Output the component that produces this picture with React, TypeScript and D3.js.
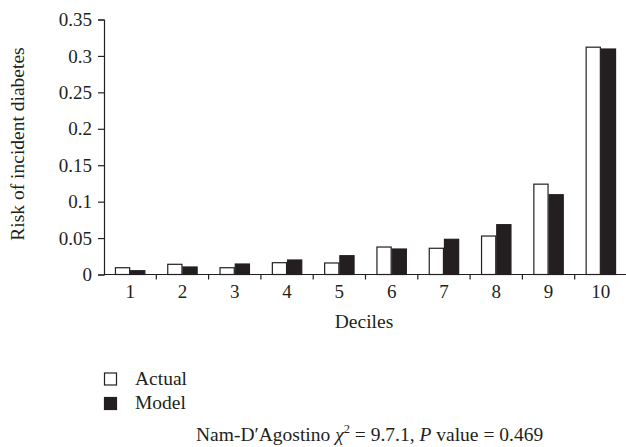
import React, { useEffect, useRef } from 'react';
import * as d3 from 'd3';

const deciles = ['1', '2', '3', '4', '5', '6', '7', '8', '9', '10'];
const series = ['Actual', 'Model'];
const actual = [0.0093, 0.014, 0.0093, 0.0162, 0.0158, 0.0377, 0.036, 0.0528, 0.124, 0.312];
const model = [0.0052, 0.0103, 0.0144, 0.0199, 0.0258, 0.035, 0.0483, 0.0684, 0.1095, 0.3095];
const yTicks = [0, 0.05, 0.1, 0.15, 0.2, 0.25, 0.3, 0.35];

const width = 626;
const height = 447;
const font = '"Liberation Serif", "DejaVu Serif", serif';

export default function App() {
  const ref = useRef<SVGSVGElement>(null);

  useEffect(() => {
    const svg = d3.select(ref.current);
    svg.selectAll('*').remove();

    const x = d3.scaleBand().domain(deciles).range([104, 627]);
    const x1 = d3.scaleBand().domain(series).range([0, x.bandwidth()]).paddingOuter(0.72);
    const y = d3.scaleLinear().domain([0, 0.35]).range([274.5, 19.5]);
    const fill = d3.scaleOrdinal<string, string>().domain(series).range(['#ffffff', '#231f20']);

    // bars
    const groups = svg
      .append('g')
      .selectAll('g')
      .data(deciles)
      .enter()
      .append('g')
      .attr('transform', (d) => 'translate(' + x(d) + ',0)');

    groups
      .selectAll('rect')
      .data((d, i) => series.map((s) => ({ s, v: s === 'Actual' ? actual[i] : model[i] })))
      .enter()
      .append('rect')
      .attr('x', (d) => x1(d.s)! + 0.5)
      .attr('y', (d) => y(d.v))
      .attr('width', x1.bandwidth() - 1)
      .attr('height', (d) => y(0) - y(d.v))
      .attr('fill', (d) => fill(d.s))
      .attr('stroke', '#231f20')
      .attr('stroke-width', 1.2);

    // y axis
    const yAxis = svg
      .append('g')
      .attr('transform', 'translate(104,0)')
      .call(
        d3
          .axisLeft(y)
          .tickValues(yTicks)
          .tickSize(6)
          .tickPadding(6)
          .tickFormat((d) => String(+(+d).toFixed(2)))
      );
    yAxis.select('.domain').attr('stroke', '#231f20').attr('stroke-width', 1.2);
    yAxis.selectAll('.tick line').attr('stroke', '#231f20').attr('stroke-width', 1.2);
    yAxis
      .selectAll('.tick text')
      .attr('font-family', font)
      .attr('font-size', 19)
      .attr('fill', '#231f20');

    // x axis: ticks between bands
    const xg = svg.append('g').attr('transform', 'translate(0,' + y(0) + ')');
    xg.append('line')
      .attr('x1', 104)
      .attr('x2', 627)
      .attr('stroke', '#231f20')
      .attr('stroke-width', 1.2);
    xg.selectAll('line.tk')
      .data(deciles.slice(1))
      .enter()
      .append('line')
      .attr('class', 'tk')
      .attr('x1', (d) => x(d)!)
      .attr('x2', (d) => x(d)!)
      .attr('y1', 0)
      .attr('y2', 5)
      .attr('stroke', '#231f20')
      .attr('stroke-width', 1.2);
    xg.selectAll('text')
      .data(deciles)
      .enter()
      .append('text')
      .attr('x', (d) => x(d)! + x.bandwidth() / 2)
      .attr('y', 23)
      .attr('text-anchor', 'middle')
      .attr('font-family', font)
      .attr('font-size', 19)
      .attr('fill', '#231f20')
      .text((d) => d);

    // axis titles
    svg
      .append('text')
      .attr('transform', 'translate(24,144) rotate(-90)')
      .attr('text-anchor', 'middle')
      .attr('font-family', font)
      .attr('font-size', 19.5)
      .attr('fill', '#231f20')
      .text('Risk of incident diabetes');

    svg
      .append('text')
      .attr('x', 364)
      .attr('y', 328)
      .attr('text-anchor', 'middle')
      .attr('font-family', font)
      .attr('font-size', 19.5)
      .attr('fill', '#231f20')
      .text('Deciles');

    // legend
    const legend = svg
      .append('g')
      .selectAll('g')
      .data(series)
      .enter()
      .append('g')
      .attr('transform', (d, i) => 'translate(104.5,' + (373 + i * 24.5) + ')');
    legend
      .append('rect')
      .attr('width', 12)
      .attr('height', 12)
      .attr('fill', (d) => fill(d))
      .attr('stroke', '#231f20')
      .attr('stroke-width', 1.2);
    legend
      .append('text')
      .attr('x', 30.5)
      .attr('y', 11.5)
      .attr('font-family', font)
      .attr('font-size', 19.5)
      .attr('fill', '#231f20')
      .text((d) => d);

    // note
    const note = svg
      .append('text')
      .attr('x', 196)
      .attr('y', 441)
      .attr('font-family', font)
      .attr('font-size', 19.5)
      .attr('fill', '#231f20');
    note.append('tspan').text('Nam-D\u2032Agostino ');
    note.append('tspan').attr('font-style', 'italic').text('\u03c7');
    note.append('tspan').attr('font-size', 12.5).attr('dy', -8).text('2');
    note.append('tspan').attr('dy', 8).text(' = 9.7.1, ');
    note.append('tspan').attr('font-style', 'italic').text('P');
    note.append('tspan').text(' value = 0.469');
  }, []);

  return (
    <svg
      ref={ref}
      width={width}
      height={height}
      style={{ position: 'absolute', left: 0, top: 0, background: '#fff' }}
    />
  );
}
